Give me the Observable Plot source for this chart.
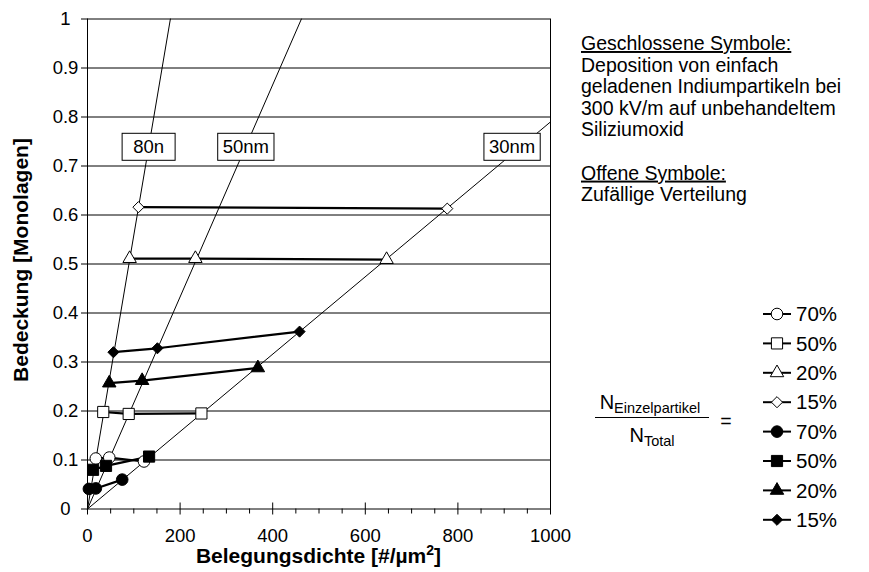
<!DOCTYPE html>
<html><head><meta charset="utf-8">
<script src="https://cdn.jsdelivr.net/npm/d3@7"></script>
<script src="https://cdn.jsdelivr.net/npm/@observablehq/plot@0.6"></script>
<style>
html,body{margin:0;padding:0;background:#fff;}
#chart{width:869px;height:572px;position:relative;}
</style></head><body><div id="chart"></div>
<script>
// ---- axes ----
const xMajor = [0, 200, 400, 600, 800, 1000];
const xMajorLabels = ["0", "200", "400", "600", "800", "1000"];
const xMinor = [50, 100, 150, 250, 300, 350, 450, 500, 550, 650, 700, 750, 850, 900, 950];
const yTicks = [0, 0.1, 0.2, 0.3, 0.4, 0.5, 0.6, 0.7, 0.8, 0.9, 1];
const yTickLabels = ["0", "0.1", "0.2", "0.3", "0.4", "0.5", "0.6", "0.7", "0.8", "0.9", "1"];
const yGrid = [0.1, 0.2, 0.3, 0.4, 0.5, 0.6, 0.7, 0.8, 0.9, 1];

// ---- reference lines (particle diameter) ----
const ref80 = [[0, 0], [179, 1]];
const ref50 = [[0, 0], [462, 1]];
const ref30 = [[0, 0], [1000, 0.79]];
const refLabelText = ["80n", "50nm", "30nm"];
const refLabelX = [132, 342, 917];
const refLabelY = [0.738, 0.738, 0.738];

// ---- series: open symbols = random distribution ----
const offen70 = [[18, 0.103], [47, 0.105], [122, 0.097]];
const offen50 = [[34, 0.198], [89, 0.194], [246, 0.195]];
const offen20 = [[91, 0.511], [233, 0.511], [646, 0.509]];
const offen15 = [[110, 0.616], [777, 0.613]];
// ---- series: closed symbols = deposition ----
const geschl70 = [[3, 0.041], [18, 0.042], [75, 0.060]];
const geschl50 = [[12, 0.080], [40, 0.088], [133, 0.107]];
const geschl20 = [[47, 0.257], [118, 0.262], [368, 0.288]];
const geschl15 = [[56, 0.320], [151, 0.328], [458, 0.362]];

const legendLabels = ["70%", "50%", "20%", "15%", "70%", "50%", "20%", "15%"];
const seriesData = [offen70, offen50, offen20, offen15, geschl70, geschl50, geschl20, geschl15];
const seriesSymbols = ["circle", "square", "triangle", "diamond2", "circle", "square", "triangle", "diamond2"];
const seriesFilled = [false, false, false, false, true, true, true, true];

const textLines = ["Geschlossene Symbole:", "Deposition von einfach", "geladenen Indiumpartikeln bei",
  "300 kV/m auf unbehandeltem", "Siliziumoxid", "", "Offene Symbole:", "Zufällige Verteilung"];

// ---- styles ----
const FONT = "'Liberation Sans', Arial, Helvetica, sans-serif";
const symR = {circle: 5.8, square: 6.3, triangle: 5, diamond2: 5};
const d3Sym = {circle: d3.symbolCircle, square: d3.symbolSquare, triangle: d3.symbolTriangle, diamond2: d3.symbolDiamond2};
const W = 869, H = 572, mL = 87, mR = 319, mT = 18.5, mB = 63.5;
const plotH = H - mT - mB;

const px = d => d[0], py = d => d[1];
const marks = [];
// grid
marks.push(Plot.ruleY(yGrid, {stroke: "black", strokeWidth: 1}));
marks.push(Plot.ruleX([0, 1000], {stroke: "black", strokeWidth: 1}));
marks.push(Plot.ruleY([0], {stroke: "black", strokeWidth: 1}));
// ticks
marks.push(Plot.axisY({ticks: yTicks, tickSize: 6, tickFormat: () => "", label: null}));
marks.push(Plot.axisX({ticks: xMinor, tickSize: 5, tickFormat: () => "", label: null}));
marks.push(Plot.ruleX(xMajor, {stroke: "black", insetTop: plotH - 6, insetBottom: -6}));
// tick labels
marks.push(Plot.text(yTicks, {y: d => d, text: (d, i) => yTickLabels[i], frameAnchor: "left", dx: -22, textAnchor: "middle", fontSize: 18.5, fill: "black"}));
marks.push(Plot.text(xMajor, {x: d => d, text: (d, i) => xMajorLabels[i], frameAnchor: "bottom", dy: 33, textAnchor: "middle", fontSize: 18.5, fill: "black"}));
// reference lines
for (const r of [ref80, ref50, ref30]) marks.push(Plot.line(r, {x: px, y: py, stroke: "black", strokeWidth: 1}));
// series lines
seriesData.forEach(s => marks.push(Plot.line(s, {x: px, y: py, stroke: "black", strokeWidth: 2.2})));
// series markers
seriesData.forEach((s, i) => {
  const sym = seriesSymbols[i];
  marks.push(Plot.dot(s, {x: px, y: py, symbol: sym, r: symR[sym],
    fill: seriesFilled[i] ? "black" : "white", stroke: "black", strokeWidth: 1}));
});
// reference labels
marks.push(Plot.text(refLabelText, {x: (d, i) => refLabelX[i], y: (d, i) => refLabelY[i], text: d => d,
  fontSize: 18.5, fill: "black", textAnchor: "middle"}));

const chart = Plot.plot({
  width: W, height: H, marginLeft: mL, marginRight: mR, marginTop: mT, marginBottom: mB,
  x: {domain: [0, 1000]}, y: {domain: [0, 1]},
  style: {fontFamily: FONT, fontSize: "18.5px", color: "black", background: "white", overflow: "visible"},
  marks
});
document.getElementById("chart").appendChild(chart);

const svg = d3.select(chart);
// boxes behind reference labels
svg.selectAll("text").filter(function () { return refLabelText.includes(this.textContent); }).each(function () {
  const b = this.getBBox();
  const w = Math.max(b.width + 10, 53), h = 27;
  const cx = b.x + b.width / 2, cy = b.y + b.height / 2;
  d3.select(this.parentNode).insert("rect", () => this)
    .attr("x", cx - w / 2).attr("y", cy - h / 2).attr("width", w).attr("height", h)
    .attr("fill", "white").attr("stroke", "black").attr("stroke-width", 1)
    .attr("transform", this.getAttribute("transform"));
});

const ann = svg.append("g").attr("font-family", FONT).attr("fill", "black").attr("text-anchor", "start");
// axis titles
ann.append("text").attr("x", mL + (W - mL - mR) / 2).attr("y", 563).attr("text-anchor", "middle")
  .attr("font-weight", "bold").attr("font-size", 21)
  .html('Belegungsdichte [#/µm<tspan dy="-8" font-size="14">2</tspan><tspan dy="8">]</tspan>');
ann.append("text").attr("transform", `translate(28,260) rotate(-90)`).attr("text-anchor", "middle")
  .attr("font-weight", "bold").attr("font-size", 21).text("Bedeckung [Monolagen]");
// description
textLines.forEach((t, i) => {
  if (!t) return;
  ann.append("text").attr("x", 581).attr("y", 50 + i * 21.6).attr("font-size", 19.5).attr("text-anchor", "start")
    .attr("text-decoration", (i === 0 || i === 6) ? "underline" : null).text(t);
});
// fraction
ann.append("text").attr("x", 650).attr("y", 409).attr("text-anchor", "middle").attr("font-size", 20)
  .html('N<tspan dy="4" font-size="14.5">Einzelpartikel</tspan>');
ann.append("line").attr("x1", 595).attr("x2", 709).attr("y1", 417.5).attr("y2", 417.5).attr("stroke", "black");
ann.append("text").attr("x", 652).attr("y", 442).attr("text-anchor", "middle").attr("font-size", 20)
  .html('N<tspan dy="4" font-size="14.5">Total</tspan>');
ann.append("text").attr("x", 726).attr("y", 428).attr("text-anchor", "middle").attr("font-size", 19.5).text("=");
// legend
legendLabels.forEach((lab, i) => {
  const y = 314 + i * 29.4;
  const sym = seriesSymbols[i];
  const g = ann.append("g");
  g.append("line").attr("x1", 763).attr("x2", 791).attr("y1", y).attr("y2", y).attr("stroke", "black").attr("stroke-width", 2);
  g.append("path").attr("d", d3.symbol(d3Sym[sym], symR[sym] * symR[sym] * Math.PI)())
    .attr("transform", `translate(777,${y})`).attr("fill", seriesFilled[i] ? "black" : "white").attr("stroke", "black");
  g.append("text").attr("x", 796).attr("y", y).attr("dy", "0.35em").attr("font-size", 20.5).attr("text-anchor", "start").text(lab);
});
</script></body></html>
